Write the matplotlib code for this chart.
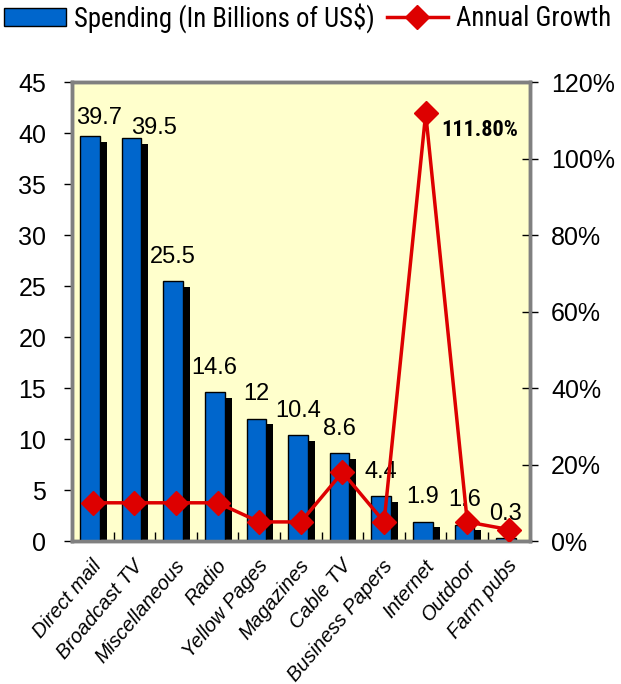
import numpy as np
import matplotlib
matplotlib.use("Agg")
import matplotlib.pyplot as plt
from matplotlib.lines import Line2D
from matplotlib.patches import Patch

categories = ["Direct mail", "Broadcast TV", "Miscellaneous", "Radio", "Yellow Pages",
              "Magazines", "Cable TV", "Business Papers", "Internet", "Outdoor", "Farm pubs"]
spending = [39.7, 39.5, 25.5, 14.6, 12, 10.4, 8.6, 4.4, 1.9, 1.6, 0.3]
growth = [10, 10, 10, 10, 5, 5, 18, 5, 111.8, 5, 3]

left_ticks = [0, 5, 10, 15, 20, 25, 30, 35, 40, 45]
right_ticks = [0, 20, 40, 60, 80, 100, 120]

BLUE = "#0066CC"
RED = "#DD0000"
BG = "#FFFFCC"
FRAME = "#808080"
NARROW = ["Roboto Condensed", "Archivo Narrow", "DejaVu Sans"]
ARIAL = "Liberation Sans"

fig = plt.figure(figsize=(6.21, 6.84), dpi=100)
ax = fig.add_axes([0.116, 0.209, 0.737, 0.671])
ax.set_facecolor(BG)

x = np.arange(len(categories))
# black drop shadow behind each bar
ax.bar(x + 0.1, np.array(spending) - 0.55, width=0.47, color="black", zorder=2)
ax.bar(x - 0.07, spending, width=0.47, color=BLUE, edgecolor="black", linewidth=1, zorder=3)

# value labels, first two nudged so they don't collide
offsets = {0: (6.5, 13), 1: (16.5, 7)}
for i, v in enumerate(spending):
    dx, dy = offsets.get(i, (0, 17.5))
    ax.annotate(f"{v:g}", (x[i] - 0.07, v), xytext=(dx, dy), textcoords="offset points",
                ha="center", va="center", fontsize=17, family=ARIAL, zorder=6)

ax.set_xlim(-0.5, len(categories) - 0.5)
ax.set_ylim(0, 45)
ax.set_yticks(left_ticks)
ax.tick_params(axis="y", labelsize=18, length=6, width=1, pad=12.5)
for t in ax.get_yticklabels():
    t.set_family(ARIAL)

# ticks between categories, labels at category centres
ax.set_xticks(np.arange(len(categories) + 1) - 0.5)
ax.set_xticklabels([])
ax.tick_params(axis="x", which="major", direction="in", length=6.5, width=1)
ax.set_xticks(x - 0.05, minor=True)
ax.set_xticklabels(categories, minor=True, rotation=50, ha="right", va="top",
                   rotation_mode="anchor", fontsize=14.5, style="italic", family=ARIAL)
ax.tick_params(axis="x", which="minor", length=0, pad=11)

for s in ax.spines.values():
    s.set_color(FRAME)
    s.set_linewidth(2.5)

ax2 = ax.twinx()
ax2.plot(x, growth, color=RED, lw=2.5, marker="D", markersize=12, markerfacecolor=RED,
         markeredgecolor=RED, zorder=5)
ax2.set_ylim(0, 120)
ax2.set_yticks(right_ticks)
ax2.set_yticklabels([f"{t}%" for t in right_ticks])
ax2.tick_params(axis="y", labelsize=18, direction="inout", length=11, width=1, pad=10)
for t in ax2.get_yticklabels():
    t.set_family(ARIAL)
for s in ax2.spines.values():
    s.set_color(FRAME)
    s.set_linewidth(2.5)

peak = int(np.argmax(growth))
ax2.annotate(f"{growth[peak]:.2f}%", (x[peak], growth[peak]), xytext=(11, -12),
             textcoords="offset points", ha="left", va="center", fontsize=16,
             fontweight="bold", family=NARROW)

handles = [Patch(facecolor=BLUE, edgecolor="black", linewidth=1),
           Line2D([], [], color=RED, lw=2.5, marker="D", markersize=12, markerfacecolor=RED)]
fig.legend(handles, ["Spending (In Billions of US$)", "Annual Growth"], loc="upper left",
           bbox_to_anchor=(-0.0065, 1.0076), ncol=2, frameon=False, handlelength=2.3,
           handleheight=0.65, handletextpad=0.3, columnspacing=0.45, borderpad=0.3,
           borderaxespad=0, prop={"family": NARROW, "size": 19.3})

fig.savefig("out.png", dpi=100)
